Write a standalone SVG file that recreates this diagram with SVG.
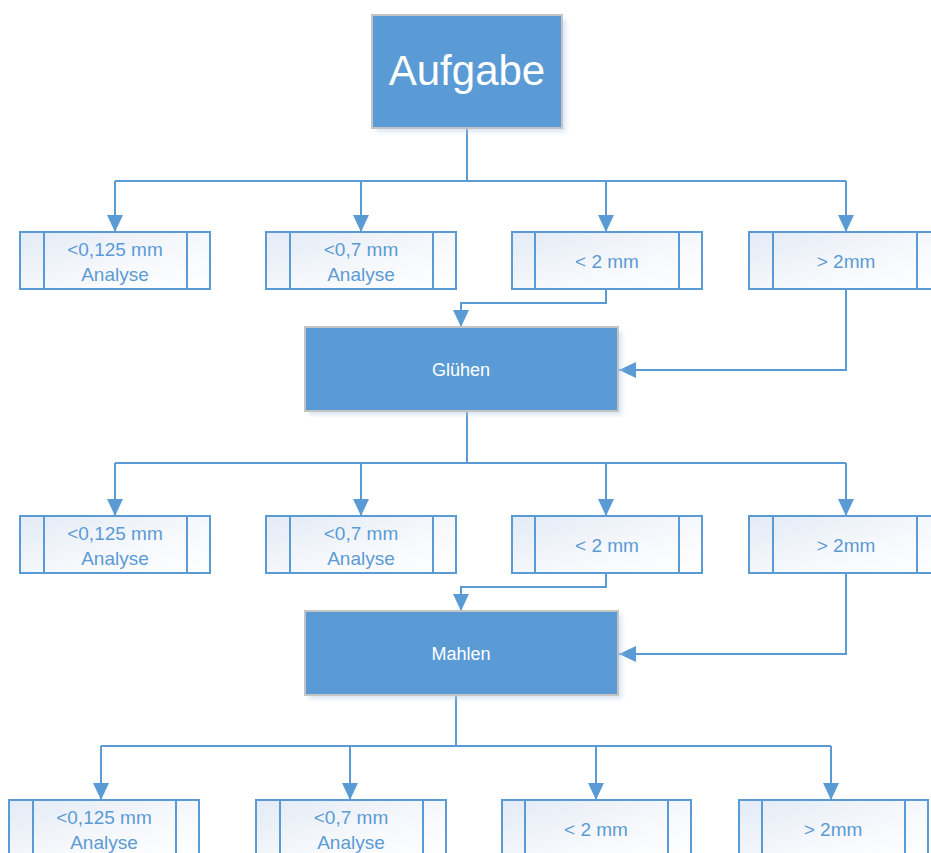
<svg xmlns="http://www.w3.org/2000/svg" width="931" height="853" viewBox="0 0 931 853">
<defs>
<linearGradient id="pg" x1="0" y1="0" x2="1" y2="1">
<stop offset="0" stop-color="#e3ebf6"/>
<stop offset="0.6" stop-color="#f7f9fc"/>
<stop offset="1" stop-color="#ffffff"/>
</linearGradient>
<marker id="ah" viewBox="0 0 17 16" refX="17" refY="8" markerWidth="17" markerHeight="16" markerUnits="userSpaceOnUse" orient="auto">
<path d="M0,0 L17,8 L0,16 Z" fill="#5b9bd5"/>
</marker>
<filter id="sh" x="-10%" y="-10%" width="130%" height="130%">
<feGaussianBlur stdDeviation="2"/>
</filter>
</defs>
<style>
.pp{fill:url(#pg);stroke:#5b9bd5;stroke-width:2}
.pl{stroke:#5b9bd5;stroke-width:2;fill:none}
.bt{font-family:"Liberation Sans",Arial,sans-serif;font-size:19px;fill:#5b9bd5;text-anchor:middle}
.mb{fill:#5b9bd5;stroke:#c4c4c4;stroke-width:2}
.ms{fill:#b8cfe8;opacity:0.5;filter:url(#sh)}
.mt{font-family:"Liberation Sans",Arial,sans-serif;font-size:18px;fill:#ffffff;text-anchor:middle}
.c{stroke:#5b9bd5;stroke-width:2;fill:none;marker-end:url(#ah)}
.cn{stroke:#5b9bd5;stroke-width:2;fill:none}
</style>
<rect width="931" height="853" fill="#ffffff"/>

<g id="connectors">
<path class="cn" d="M467,128 V181 M115,181 H846"/>
<path class="c" d="M115,181 V232"/>
<path class="c" d="M361,181 V232"/>
<path class="c" d="M606,181 V232"/>
<path class="c" d="M846,181 V232"/>
<path class="c" d="M606,289 V303 H461 V327"/>
<path class="c" d="M846,289 V370 H619"/>
<path class="cn" d="M467,411 V463 M115,463 H846"/>
<path class="c" d="M115,463 V516"/>
<path class="c" d="M361,463 V516"/>
<path class="c" d="M606,463 V516"/>
<path class="c" d="M846,463 V516"/>
<path class="c" d="M606,573 V587 H461 V611"/>
<path class="c" d="M846,573 V654 H619"/>
<path class="cn" d="M456,695 V746 M101,746 H831"/>
<path class="c" d="M101,746 V800"/>
<path class="c" d="M350,746 V800"/>
<path class="c" d="M596,746 V800"/>
<path class="c" d="M831,746 V800"/>
</g>

<g id="aufgabe">
<rect class="ms" x="376" y="19" width="190" height="113"/>
<rect class="mb" x="372" y="15" width="190" height="113"/>
<text x="467" y="85" font-family="Liberation Sans, Arial, sans-serif" font-size="42" fill="#ffffff" text-anchor="middle">Aufgabe</text>
</g>

<g id="r1b1">
<rect class="pp" x="20" y="232" width="190" height="57"/>
<path class="pl" d="M44,232 V289 M187,232 V289"/>
<text class="bt" x="115" y="256">&lt;0,125 mm</text>
<text class="bt" x="115" y="281">Analyse</text>
</g>
<g id="r1b2">
<rect class="pp" x="266" y="232" width="190" height="57"/>
<path class="pl" d="M290,232 V289 M433,232 V289"/>
<text class="bt" x="361" y="256">&lt;0,7 mm</text>
<text class="bt" x="361" y="281">Analyse</text>
</g>
<g id="r1b3">
<rect class="pp" x="512" y="232" width="190" height="57"/>
<path class="pl" d="M535,232 V289 M679,232 V289"/>
<text class="bt" x="607" y="268">&lt; 2 mm</text>
</g>
<g id="r1b4">
<rect class="pp" x="749" y="232" width="190" height="57"/>
<path class="pl" d="M773,232 V289 M917,232 V289"/>
<text class="bt" x="846" y="268">&gt; 2mm</text>
</g>

<g id="gluehen">
<rect class="ms" x="309" y="331" width="313" height="84"/>
<rect class="mb" x="305" y="327" width="313" height="84"/>
<text class="mt" x="461" y="376">Glühen</text>
</g>

<g id="r2b1">
<rect class="pp" x="20" y="516" width="190" height="57"/>
<path class="pl" d="M44,516 V573 M187,516 V573"/>
<text class="bt" x="115" y="540">&lt;0,125 mm</text>
<text class="bt" x="115" y="565">Analyse</text>
</g>
<g id="r2b2">
<rect class="pp" x="266" y="516" width="190" height="57"/>
<path class="pl" d="M290,516 V573 M433,516 V573"/>
<text class="bt" x="361" y="540">&lt;0,7 mm</text>
<text class="bt" x="361" y="565">Analyse</text>
</g>
<g id="r2b3">
<rect class="pp" x="512" y="516" width="190" height="57"/>
<path class="pl" d="M535,516 V573 M679,516 V573"/>
<text class="bt" x="607" y="552">&lt; 2 mm</text>
</g>
<g id="r2b4">
<rect class="pp" x="749" y="516" width="190" height="57"/>
<path class="pl" d="M773,516 V573 M917,516 V573"/>
<text class="bt" x="846" y="552">&gt; 2mm</text>
</g>

<g id="mahlen">
<rect class="ms" x="309" y="615" width="313" height="84"/>
<rect class="mb" x="305" y="611" width="313" height="84"/>
<text class="mt" x="461" y="660">Mahlen</text>
</g>

<g id="r3b1">
<rect class="pp" x="9" y="800" width="190" height="60"/>
<path class="pl" d="M33,800 V860 M176,800 V860"/>
<text class="bt" x="104" y="824">&lt;0,125 mm</text>
<text class="bt" x="104" y="849">Analyse</text>
</g>
<g id="r3b2">
<rect class="pp" x="256" y="800" width="190" height="60"/>
<path class="pl" d="M280,800 V860 M423,800 V860"/>
<text class="bt" x="351" y="824">&lt;0,7 mm</text>
<text class="bt" x="351" y="849">Analyse</text>
</g>
<g id="r3b3">
<rect class="pp" x="502" y="800" width="189" height="60"/>
<path class="pl" d="M525,800 V860 M668,800 V860"/>
<text class="bt" x="596" y="836">&lt; 2 mm</text>
</g>
<g id="r3b4">
<rect class="pp" x="739" y="800" width="189" height="60"/>
<path class="pl" d="M762,800 V860 M905,800 V860"/>
<text class="bt" x="833" y="836">&gt; 2mm</text>
</g>
</svg>
